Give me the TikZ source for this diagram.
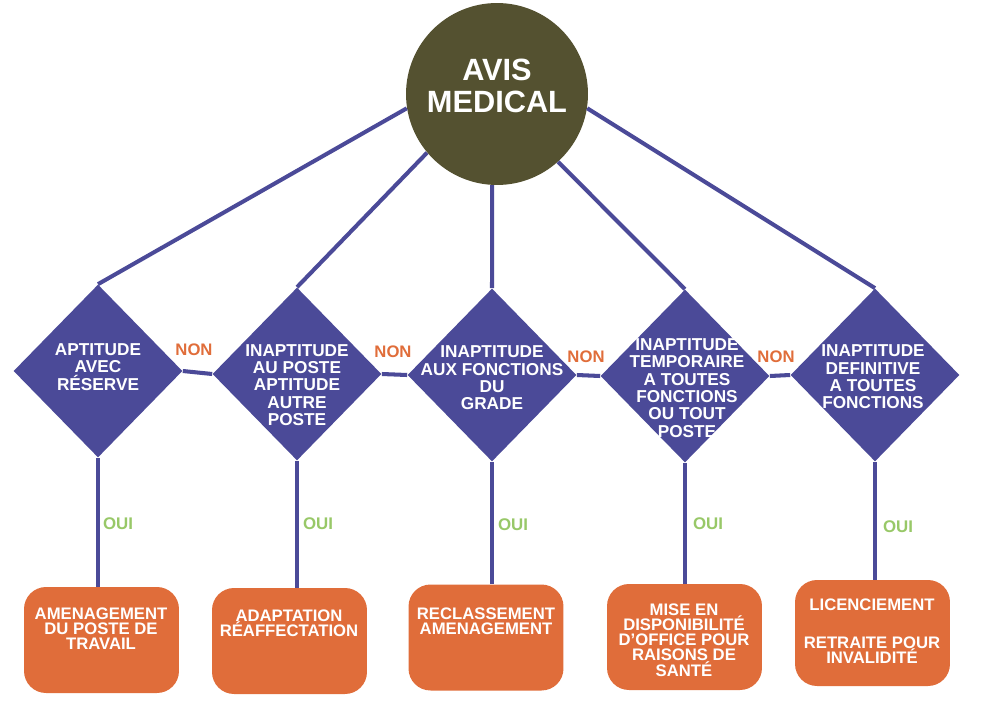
\documentclass[tikz,border=0pt]{standalone}
\usepackage{fontspec}
\setmainfont{Liberation Sans}
\usetikzlibrary{shapes.geometric}
\definecolor{avisolive}{RGB}{84,81,48}
\definecolor{avispurple}{RGB}{75,74,152}
\definecolor{avisorange}{RGB}{224,109,58}
\definecolor{avisgreen}{RGB}{152,200,104}
\begin{document}
\begin{tikzpicture}[x=0.02cm,y=-0.02cm,
		link/.style={draw=avispurple,line width=2.3pt},
		decision/.style={diamond,fill=avispurple,inner sep=0,minimum width=3.38cm,minimum height=3.46cm},
		dtext/.style={text=white,font=\bfseries\fontsize{9.8}{9.9}\selectfont,align=center,inner sep=0},
		outcome/.style={rectangle,rounded corners=0.44cm,fill=avisorange,minimum width=3.1cm,minimum height=2.12cm,inner sep=0},
		otext/.style={text=white,font=\bfseries\fontsize{9.5}{8.7}\selectfont,align=center,inner sep=0,anchor=north},
		non/.style={text=avisorange,font=\bfseries\fontsize{9.5}{9.5}\selectfont,inner sep=0},
		oui/.style={text=avisgreen,font=\bfseries\fontsize{9.6}{9.6}\selectfont,inner sep=0}]
		\useasboundingbox (0,0) rectangle (1000,710);
		\node[circle,fill=avisolive,minimum size=3.64cm,inner sep=0] (avis) at (497,94){};
		\node[text=white,font=\bfseries\fontsize{17.5}{18.2}\selectfont,align=center,inner sep=0] (avist) at (497,86){AVIS\\MEDICAL};
		% diamonds
		\node[decision] (d1) at (98,371){};
		\node[decision] (d2) at (297,374){};
		\node[decision] (d3) at (492,375){};
		\node[decision] (d4) at (685,376){};
		\node[decision] (d5) at (875,375){};
		\node[dtext] (t1) at (98,367){APTITUDE\\AVEC\\RÉSERVE};
		\node[dtext] (t2) at (297,385){INAPTITUDE\\AU POSTE\\APTITUDE\\AUTRE\\POSTE};
		\node[dtext] (t3) at (492,378){INAPTITUDE\\AUX FONCTIONS\\DU\\GRADE};
		\node[dtext] (t4) at (687,388){INAPTITUDE\\TEMPORAIRE\\A TOUTES\\FONCTIONS\\OU TOUT\\POSTE};
		\node[dtext] (t5) at (873,377){INAPTITUDE\\DEFINITIVE\\A TOUTES\\FONCTIONS};
		% outcomes
		\node[outcome] (b1) at (101.5,640){};
		\node[outcome] (b2) at (289.5,641){};
		\node[outcome] (b3) at (486,637.5){};
		\node[outcome] (b4) at (684.5,637){};
		\node[outcome] (b5) at (872.5,633){};
		\node[otext] (r1) at (101,607){AMENAGEMENT\\DU POSTE DE\\TRAVAIL};
		\node[otext] (r2) at (289,609){ADAPTATION\\RÉAFFECTATION};
		\node[otext] (r3) at (486,607){RECLASSEMENT\\AMENAGEMENT};
		\node[otext] (r4) at (684,603){MISE EN\\DISPONIBILITÉ\\D’OFFICE POUR\\RAISONS DE\\SANTÉ};
		\node[otext] (r5) at (872,598){LICENCIEMENT\\[0.455cm]RETRAITE POUR\\INVALIDITÉ};
		\draw[link] (avis.189)--(d1.north);
		\draw[link] (avis.220)--(d2.north);
		\draw[link] (avis.267)--(d3.north);
		\draw[link] (avis.312)--(d4.north);
		\draw[link] (avis.351)--(d5.north);
		\draw[link] (d1.east)--(d2.west);
		\draw[link] (d2.east)--(d3.west);
		\draw[link] (d3.east)--(d4.west);
		\draw[link] (d4.east)--(d5.west);
		\draw[link] (d1.south)--(d1.south |- b1.north);
		\draw[link] (d2.south)--(d2.south |- b2.north);
		\draw[link] (d3.south)--(d3.south |- b3.north);
		\draw[link] (d4.south)--(d4.south |- b4.north);
		\draw[link] (d5.south)--(d5.south |- b5.north);
		\node[non] (n12) at (194,350){NON};
		\node[non] (n23) at (393,352){NON};
		\node[non] (n34) at (586,357){NON};
		\node[non] (n45) at (776,357){NON};
		\node[oui] (o1) at (118,524){OUI};
		\node[oui] (o2) at (318,524){OUI};
		\node[oui] (o3) at (513,525){OUI};
		\node[oui] (o4) at (708,524){OUI};
		\node[oui] (o5) at (898,527){OUI};
		\end{tikzpicture}
\end{document}
